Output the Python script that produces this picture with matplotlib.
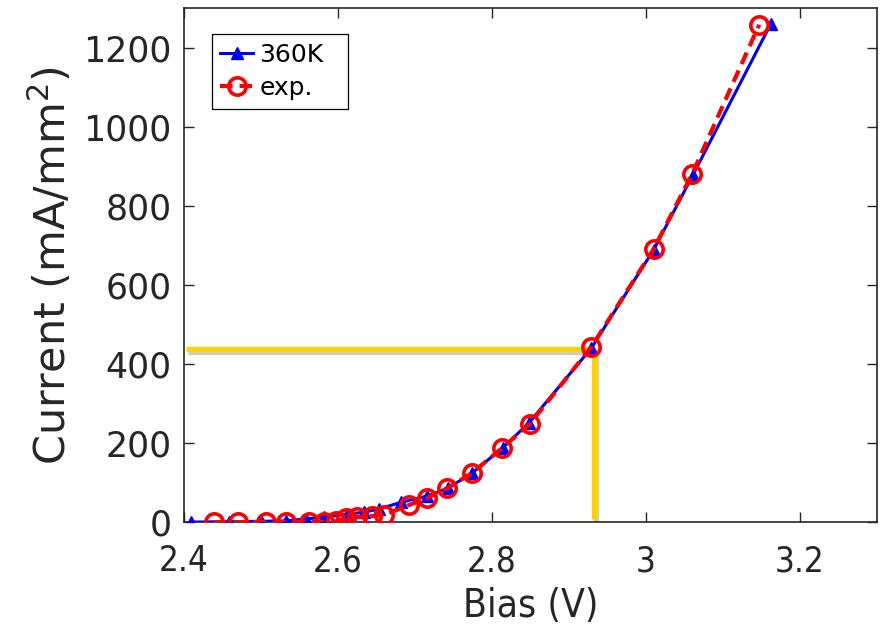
#!/usr/bin/env python3
import matplotlib
matplotlib.use('Agg')
import matplotlib.pyplot as plt
import matplotlib.patheffects as pe

# simulated 360K curve
bias_360k = [2.409, 2.458, 2.500, 2.532, 2.558, 2.582, 2.612, 2.634, 2.653, 2.682,
             2.716, 2.743, 2.774, 2.814, 2.848, 2.929, 3.010, 3.061, 3.162]
curr_360k = [0, 1, 2, 3, 8, 12, 20, 25, 33, 50,
             66, 86, 124, 188, 251, 440, 689, 878, 1260]

# experiment
bias_exp = [2.439, 2.470, 2.506, 2.532, 2.562, 2.582, 2.597, 2.610, 2.625, 2.644, 2.660,
            2.692, 2.716, 2.742, 2.774, 2.813, 2.849, 2.929, 3.010, 3.060, 3.147]
curr_exp = [0, 0, 0, 0, 0, 0, 2, 10, 13, 15, 18,
            43, 61, 86, 124, 187, 248, 443, 691, 881, 1258]

# marker lines
mark_bias = 2.933
mark_curr = 437

plt.rcParams['font.family'] = ['DejaVu Sans']

fig = plt.figure(figsize=(8.82, 6.29), dpi=100)
ax = fig.add_axes([0.2086, 0.170, 0.7857, 0.817])

ax.plot(bias_360k, curr_360k, color='blue', lw=2.2, marker='^', ms=8,
        markerfacecolor='blue', markeredgecolor='blue', label='360K', zorder=3)
ax.plot(bias_exp, curr_exp, color='red', lw=3, ls=(0, (3, 1.7)), marker='o', ms=12.5,
        markerfacecolor='none', markeredgecolor='red', markeredgewidth=2.6,
        label='exp.', zorder=4)

shadow = [pe.SimpleLineShadow(offset=(1.2, -2), shadow_color='0.5', alpha=0.4),
          pe.Normal()]
ax.plot([2.403, mark_bias], [mark_curr, mark_curr], color='#FFD200', lw=3.8,
        solid_capstyle='butt', path_effects=shadow, zorder=2)
ax.plot([mark_bias, mark_bias], [mark_curr, 8], color='#FFD200', lw=3.8,
        solid_capstyle='butt', path_effects=shadow, zorder=2)

ax.set_xlim(2.4, 3.3)
ax.set_ylim(0, 1300)
ax.set_xticks([2.4, 2.6, 2.8, 3.0, 3.2])
ax.set_xticklabels(['2.4', '2.6', '2.8', '3', '3.2'], fontstretch='condensed')
ax.set_yticks(range(0, 1201, 200))
ax.tick_params(direction='in', length=7, width=1, top=True, right=True,
               labelsize=25, colors='#262626')
ax.tick_params(axis='y', pad=9)
ax.tick_params(axis='x', pad=16)
for s in ax.spines.values():
  s.set_color('#262626')
  s.set_linewidth(1.2)

ax.set_xlabel('Bias (V)', fontsize=28, color='#262626', labelpad=6,
              fontstretch='condensed')
ax.set_ylabel('Current (mA/mm$^2$)', fontsize=31, color='#262626', labelpad=6)

leg = ax.legend(loc='upper left', bbox_to_anchor=(0.040, 0.80, 0.196, 0.149),
                mode='expand', fontsize=18,
                frameon=True, fancybox=False, edgecolor='black', framealpha=1,
                handlelength=1.3, handletextpad=0.25, borderpad=0.35, labelspacing=0.35,
                borderaxespad=0)
leg.get_frame().set_linewidth(0.9)

fig.savefig('out.png', dpi=100)
